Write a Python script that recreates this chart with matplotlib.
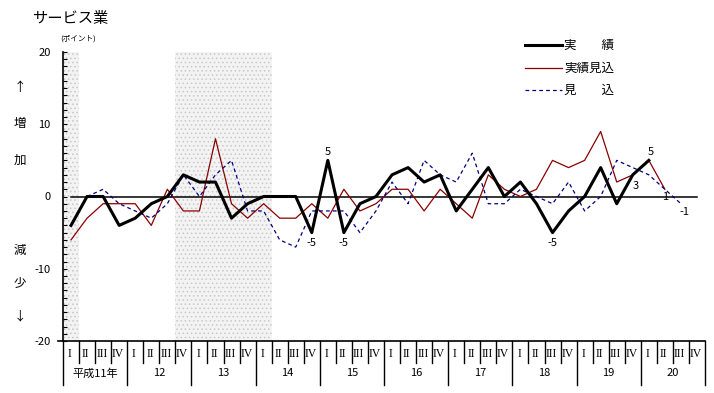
import numpy as np
import matplotlib
matplotlib.use("Agg")
import matplotlib.pyplot as plt
from matplotlib.lines import Line2D
from matplotlib.ticker import MultipleLocator

plt.rcParams['font.family'] = ['Noto Sans CJK JP', 'DejaVu Sans']
plt.rcParams['hatch.linewidth'] = 0.6

# quarterly DI, 平成11年 I .. 平成20年 IV
actual = [-4, 0, 0, -4, -3, -1, 0, 3, 2, 2, -3, -1, 0, 0, 0, -5, 5, -5, -1, 0,
          3, 4, 2, 3, -2, 1, 4, 0, 2, -1, -5, -2, 0, 4, -1, 3, 5]
estimate = [-6, -3, -1, -1, -1, -4, 1, -2, -2, 8, -1, -3, -1, -3, -3, -1, -3, 1, -2, -1,
            1, 1, -2, 1, -1, -3, 3, 1, 0, 1, 5, 4, 5, 9, 2, 3, 5, 1]
forecast = [np.nan, 0, 1, -1, -2, -3, -1, 3, 0, 3, 5, -2, -2, -6, -7, -2, -2, -2, -5, -2,
            2, -1, 5, 3, 2, 6, -1, -1, 1, 0, -1, 2, -2, 0, 5, 4, 3, 1, -1]
quarters = ['I', 'II', 'III', 'IV']
years = ['平成11年', '12', '13', '14', '15', '16', '17', '18', '19', '20']
shaded = [(0, 0), (7, 12)]   # recession quarters (first, last index)

# value labels: (x index, y, text)
notes = [(16, 6.2, '5'), (15, -6.4, '-5'), (17, -6.4, '-5'), (30, -6.4, '-5'),
         (35.2, 1.5, '3'), (36.1, 6.2, '5'), (37, -0.1, '1'), (38.2, -2.1, '-1')]

W, H = 714, 393
fig = plt.figure(figsize=(W / 100, H / 100), dpi=100)
ax = fig.add_axes([63 / W, 1 - 341 / H, 642 / W, 289 / H])

n = len(years) * 4
ax.set_xlim(-0.5, n - 0.5)
ax.set_ylim(-20, 20)

for a, b in shaded:
    ax.axvspan(a - 0.5, b + 0.5, facecolor='#f3f3f3', edgecolor='#c8c8c8',
               hatch='....', lw=0, zorder=0)

ax.plot([0, n - 1], [0, 0], color='black', lw=1.1, zorder=1)

ax.plot(np.arange(len(estimate)), estimate, color='#8b0000', lw=0.9, zorder=2)
ax.plot(np.arange(len(forecast)), forecast, color='#000080', lw=0.9,
        dashes=(3, 2.5), zorder=3)
ax.plot(np.arange(len(actual)), actual, color='black', lw=2.2, zorder=4)

for x, y, t in notes:
    ax.text(x, y, t, fontsize=8, ha='center', va='center')

for s in ['top', 'right']:
    ax.spines[s].set_visible(False)
ax.spines['left'].set_linewidth(1.2)
ax.spines['bottom'].set_linewidth(1.2)
ax.set_xticks([])
ax.set_yticks([-20, -10, 0, 10, 20])
ax.set_yticklabels(['-20', '-10', '0', '10', '20'], fontsize=8)
ax.yaxis.set_minor_locator(MultipleLocator(1))
ax.tick_params(axis='y', which='both', direction='in', length=3, width=0.8, pad=9)

# category table under the axis
tr = ax.get_xaxis_transform()
for i in range(n + 1):
    low = -0.152 if i % 4 == 0 else -0.075
    ax.plot([i - 0.5, i - 0.5], [0, low], transform=tr, color='black',
            lw=1, clip_on=False)
for i in range(n):
    ax.text(i - 0.08, -0.045, quarters[i % 4], transform=tr, fontsize=8.5,
            family='Liberation Serif', ha='center', va='center')
for k, y in enumerate(years):
    ax.text(4 * k + 1.5, -0.112, y, transform=tr, fontsize=8,
            ha='center', va='center')
ax.plot([-0.8, -0.5], [-20, -20], color='black', lw=1.2, clip_on=False)

# titles and side labels
fig.text(32 / W, 1 - 18 / H, 'サービス業', fontsize=11, va='center')
fig.text(60 / W, 1 - 39 / H, '(ポイント)', fontsize=5.5, va='center')
for y, t in [(87, '↑'), (124, '増'), (160, '加'), (250, '減'), (283, '少'), (316, '↓')]:
    fig.text(20 / W, 1 - y / H, t, fontsize=9, ha='center', va='center')

# legend
legend = [(45, '実　　績', dict(color='black', lw=2.2)),
          (68, '実績見込', dict(color='#8b0000', lw=0.9)),
          (90, '見　　込', dict(color='#000080', lw=0.9, dashes=(3, 2.5)))]
for y, t, kw in legend:
    fig.add_artist(Line2D([525 / W, 562 / W], [1 - y / H] * 2, **kw))
    fig.text(564 / W, 1 - y / H, t, fontsize=9, va='center')

fig.savefig('out.png', dpi=100)
